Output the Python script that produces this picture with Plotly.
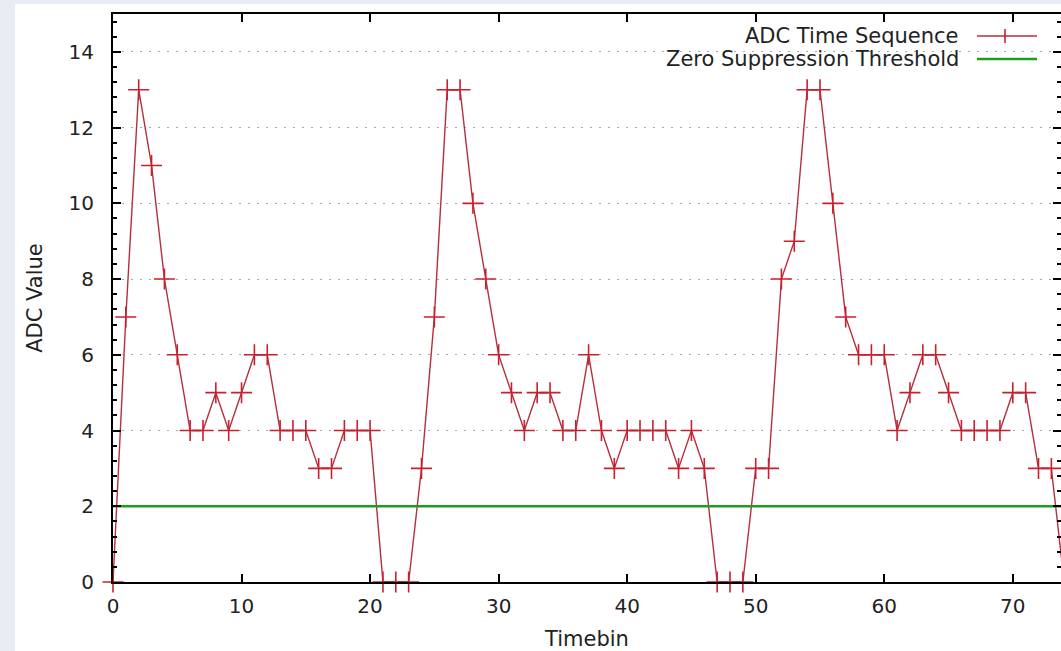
import plotly.graph_objects as go

# ADC samples per timebin
timebins = list(range(75))
adc_values = [0, 7, 13, 11, 8, 6, 4, 4, 5, 4, 5, 6, 6, 4, 4, 4, 3, 3, 4, 4, 4,
              0, 0, 0, 3, 7, 13, 13, 10, 8, 6, 5, 4, 5, 5, 4, 4, 6, 4, 3,
              4, 4, 4, 4, 3, 4, 3, 0, 0, 0, 3, 3, 8, 9, 13, 13, 10, 7, 6, 6,
              6, 4, 5, 6, 6, 5, 4, 4, 4, 4, 5, 5, 3, 3, 0]
threshold = 2

x_ticks = [0, 10, 20, 30, 40, 50, 60, 70]
y_ticks = [0, 2, 4, 6, 8, 10, 12, 14]
x_range = [0, 73.75]
y_range = [0, 15]

RED = "#b5303c"
MARK = "#c8202f"
GREEN = "#1d9e1d"
FONT = "DejaVu Sans"
TXT = "#222222"

W, H = 1061, 651
ML, MR, MT, MB = 113, 0, 14, 69
PW, PH = W - ML - MR, H - MT - MB


def px(xp):
    return (xp - ML) / PW


def py(yp):
    return (H - MB - yp) / PH


minor_vals = [round(k * 0.4, 2) for k in range(38) if k % 5 != 0]

fig = go.Figure()

fig.add_trace(go.Scatter(
    x=timebins, y=adc_values, mode="lines+markers",
    line=dict(color=RED, width=1.4),
    marker=dict(symbol="cross-thin", size=15,
                line=dict(color=MARK, width=1.6)),
    cliponaxis=False, showlegend=False,
))

fig.add_trace(go.Scatter(
    x=[timebins[0], timebins[-1]], y=[threshold, threshold], mode="lines",
    line=dict(color=GREEN, width=2.6), showlegend=False,
))

# right-hand mirrored ticks without a border line
fig.add_trace(go.Scatter(x=[None], y=[None], yaxis="y2", showlegend=False))

tick_font = dict(family=FONT, size=20, color=TXT)
label_font = dict(family=FONT, size=21, color=TXT)

fig.update_layout(
    width=W, height=H,
    margin=dict(l=ML, r=MR, t=MT, b=MB),
    paper_bgcolor="#e8edf4",
    plot_bgcolor="rgba(0,0,0,0)",
    xaxis=dict(
        range=x_range, tickvals=x_ticks, ticks="inside", ticklen=8,
        tickwidth=2, tickcolor="black", showline=True, linewidth=2,
        linecolor="black", mirror="ticks", showgrid=False, zeroline=False,
        tickfont=tick_font, ticklabelstandoff=5,
        title=dict(text="Timebin", font=label_font, standoff=14),
    ),
    yaxis=dict(
        range=y_range, tickvals=y_ticks, ticks="inside", ticklen=8,
        tickwidth=2, tickcolor="black", showline=True, linewidth=2,
        linecolor="black", mirror=False, zeroline=False,
        showgrid=True, gridcolor="#a8a8a8", gridwidth=1, griddash="2px,7px",
        minor=dict(tickvals=minor_vals, ticks="inside", ticklen=4,
                   tickwidth=1.5, tickcolor="black"),
        tickfont=tick_font, ticklabelstandoff=13,
        title=dict(text="ADC Value", font=label_font, standoff=20),
    ),
    yaxis2=dict(
        overlaying="y", side="right", range=y_range, tickvals=y_ticks,
        ticks="inside", ticklen=8, tickwidth=2, tickcolor="black",
        showline=False, showgrid=False, zeroline=False, showticklabels=False,
        minor=dict(tickvals=minor_vals, ticks="inside", ticklen=4,
                   tickwidth=1.5, tickcolor="black"),
    ),
    showlegend=False,
)

# white page behind the chart
fig.add_shape(type="rect", xref="paper", yref="paper",
              x0=px(15), x1=px(W + 5), y0=py(H + 5), y1=py(4),
              fillcolor="white", line_width=0, layer="below")
# opaque key box
fig.add_shape(type="rect", xref="paper", yref="paper",
              x0=px(608), x1=px(1048), y0=py(70), y1=py(20),
              fillcolor="white", line_width=0, layer="between")

# key entries
key = [("ADC Time Sequence", 36, RED, True),
       ("Zero Suppression Threshold", 59, GREEN, False)]
for label, yp, color, with_mark in key:
    fig.add_annotation(x=px(961), y=py(yp), xref="paper", yref="paper",
                       text=label, showarrow=False, xanchor="right",
                       yanchor="middle", font=label_font)
    fig.add_shape(type="line", xref="paper", yref="paper",
                  x0=px(977), x1=px(1037), y0=py(yp), y1=py(yp),
                  line=dict(color=color, width=2.6 if not with_mark else 1.4))
    if with_mark:
        fig.add_shape(type="line", xref="paper", yref="paper",
                      x0=px(1005), x1=px(1005), y0=py(yp - 7), y1=py(yp + 7),
                      line=dict(color=MARK, width=1.6))

fig.write_html("out.html")
